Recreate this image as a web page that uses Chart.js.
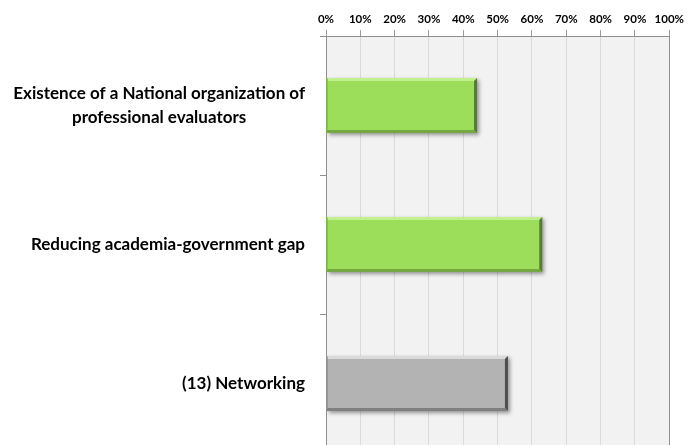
<!DOCTYPE html>
<html>
<head>
<meta charset="utf-8">
<script src="https://cdn.jsdelivr.net/npm/chart.js@4.4.1/dist/chart.umd.min.js"></script>
<style>
  html, body { margin: 0; padding: 0; background: #ffffff; overflow: hidden; width: 688px; height: 445px; }
  canvas { display: block; }
</style>
</head>
<body>
<canvas id="chart" width="688" height="454"></canvas>
<script>
// Categories (multi-line labels as arrays), shares in percent, bar colours
const categories = [
  ['Existence of a National organization of', 'professional evaluators'],
  'Reducing academia-government gap',
  '(13) Networking'
];
const shares = [44, 63, 53];
const barFill = ['#9cde5a', '#9cde5a', '#b3b3b3'];
const barLight = ['#c2f08f', '#c2f08f', '#dadada'];
const barDark = ['#52802a', '#52802a', '#4d4d4d'];
const barMid = ['#73a842', '#73a842', '#808080'];
const axisTicks = [0, 10, 20, 30, 40, 50, 60, 70, 80, 90, 100];

const LABEL_FONT = 'bold 17px Lato';
const TICK_FONT = { family: 'Lato', size: 11.5, weight: 'bold' };

// Light grey plot background
const plotBackground = {
  id: 'plotBackground',
  beforeDraw(chart) {
    const { ctx, chartArea: a } = chart;
    ctx.save();
    ctx.fillStyle = '#f2f2f2';
    ctx.fillRect(a.left, a.top, a.right - a.left, a.bottom - a.top);
    ctx.restore();
  }
};

// Soft drop shadow under the bars
const barShadow = {
  id: 'barShadow',
  beforeDatasetDraw(chart) {
    const ctx = chart.ctx;
    ctx.save();
    ctx.shadowColor = 'rgba(0,0,0,0.4)';
    ctx.shadowBlur = 4;
    ctx.shadowOffsetX = 2;
    ctx.shadowOffsetY = 2;
  },
  afterDatasetDraw(chart) {
    chart.ctx.restore();
  }
};

// Bevelled edges on each bar
const barBevel = {
  id: 'barBevel',
  afterDatasetsDraw(chart) {
    const ctx = chart.ctx;
    const meta = chart.getDatasetMeta(0);
    meta.data.forEach((bar, i) => {
      const left = Math.min(bar.base, bar.x);
      const right = Math.max(bar.base, bar.x);
      const top = bar.y - bar.height / 2;
      const bottom = bar.y + bar.height / 2;
      const e = 3;
      ctx.save();
      // top highlight
      ctx.fillStyle = barLight[i];
      ctx.beginPath();
      ctx.moveTo(left, top); ctx.lineTo(right, top);
      ctx.lineTo(right - e, top + e); ctx.lineTo(left + 1, top + e);
      ctx.closePath(); ctx.fill();
      // left edge
      ctx.fillStyle = barMid[i];
      ctx.fillRect(left, top, 1, bottom - top);
      // bottom edge
      ctx.fillStyle = barMid[i];
      ctx.beginPath();
      ctx.moveTo(left, bottom); ctx.lineTo(right, bottom);
      ctx.lineTo(right - e, bottom - e); ctx.lineTo(left + 1, bottom - e);
      ctx.closePath(); ctx.fill();
      // right edge
      ctx.fillStyle = barDark[i];
      ctx.beginPath();
      ctx.moveTo(right, top); ctx.lineTo(right, bottom);
      ctx.lineTo(right - e, bottom - e); ctx.lineTo(right - e, top + e);
      ctx.closePath(); ctx.fill();
      ctx.restore();
    });
  }
};

// Category labels: block right-aligned to the axis, lines centred within the block
const categoryLabels = {
  id: 'categoryLabels',
  afterDraw(chart) {
    const ctx = chart.ctx;
    const yScale = chart.scales.y;
    const rightEdge = yScale.right - 21;
    const lineHeight = 24;
    ctx.save();
    ctx.font = LABEL_FONT;
    ctx.fillStyle = '#000000';
    ctx.textAlign = 'center';
    ctx.textBaseline = 'middle';
    chart.data.labels.forEach((label, i) => {
      const lines = Array.isArray(label) ? label : [label];
      const widest = Math.max(...lines.map(l => ctx.measureText(l).width));
      const cx = rightEdge - widest / 2;
      const cy = yScale.getPixelForValue(i);
      const startY = cy - (lines.length - 1) * lineHeight / 2;
      lines.forEach((line, k) => ctx.fillText(line, cx, startY + k * lineHeight));
    });
    ctx.restore();
  }
};

new Chart(document.getElementById('chart'), {
  type: 'bar',
  data: {
    labels: categories,
    datasets: [{
      data: shares,
      backgroundColor: barFill,
      borderWidth: 0,
      categoryPercentage: 1,
      barPercentage: 0.395
    }]
  },
  options: {
    indexAxis: 'y',
    responsive: false,
    animation: false,
    layout: { padding: { left: 0, right: 17, top: 0, bottom: 1 } },
    plugins: { legend: { display: false }, tooltip: { enabled: false } },
    scales: {
      x: {
        position: 'top',
        min: 0,
        max: 100,
        afterBuildTicks(scale) { scale.ticks = axisTicks.map(v => ({ value: v })); },
        afterFit(scale) { scale.height = 36; },
        ticks: {
          callback: v => v + '%',
          font: TICK_FONT,
          color: '#000000',
          padding: 4,
          maxRotation: 0,
          autoSkip: false
        },
        grid: {
          color: ctx => (ctx.tick && ctx.tick.value === 100) ? '#8f8f8f' : '#d9d9d9',
          tickColor: '#9a9a9a',
          tickLength: 6,
          lineWidth: 1
        },
        border: { display: true, color: '#8f8f8f', width: 1 }
      },
      y: {
        afterFit(scale) { scale.width = 326; },
        ticks: { display: false },
        grid: {
          drawOnChartArea: false,
          drawTicks: true,
          tickLength: 6,
          color: '#8f8f8f',
          offset: true
        },
        border: { display: true, color: '#8f8f8f', width: 1 }
      }
    }
  },
  plugins: [plotBackground, barShadow, barBevel, categoryLabels]
});
</script>
</body>
</html>
